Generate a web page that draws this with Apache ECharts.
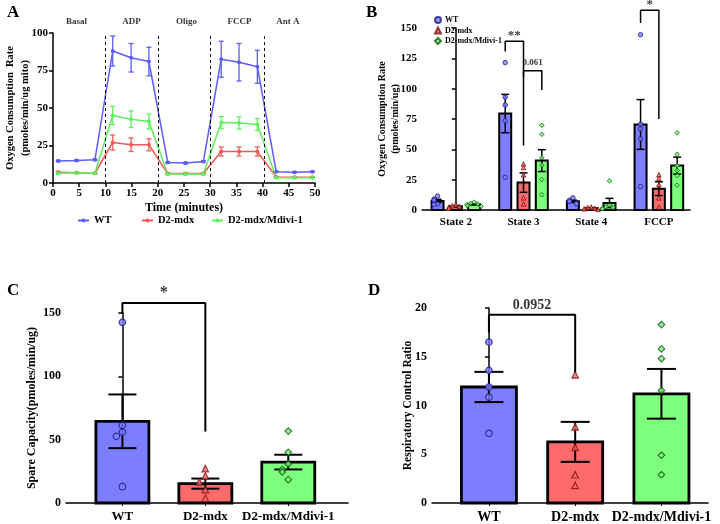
<!DOCTYPE html>
<html><head><meta charset="utf-8">
<script src="https://cdn.jsdelivr.net/npm/echarts@6/dist/echarts.min.js"></script>
<style>html,body{margin:0;padding:0;background:#fff}#c{width:720px;height:524px}</style>
</head><body><div id="c"></div>
<script>
// ---------- Panel A data ----------
const timeA = [1, 4.5, 8, 11.4, 14.9, 18.3, 21.9, 25.3, 28.7, 32.1, 35.5, 39, 42.6, 46.1, 49.5];
const wtA = [14.7, 15, 15.5, 88, 83.5, 81, 13.7, 13.3, 14.3, 82.5, 80.5, 77.5, 7.5, 7.2, 7.5];
const wtErrA = [0.5, 0.5, 0.5, 10, 9.5, 9.5, 0.5, 0.5, 0.5, 12, 12.5, 11, 0.3, 0.3, 0.3];
const mdxA = [7.2, 6.8, 6.5, 27, 25.5, 25.5, 6.3, 6.3, 6.3, 21, 21, 21, 4, 3.8, 3.8];
const mdxErrA = [0.5, 0.5, 0.5, 5, 4.5, 4, 0.5, 0.5, 0.5, 3, 3, 3, 0.3, 0.3, 0.3];
const mdiviA = [6.5, 6.8, 6.5, 45, 42.5, 41, 6, 6, 6, 40.3, 40, 39, 3.5, 3.5, 3.5];
const mdiviErrA = [0.5, 0.5, 0.5, 6, 5.5, 5, 0.5, 0.5, 0.5, 4, 4, 4, 0.3, 0.3, 0.3];
const phaseNames = ['Basal', 'ADP', 'Oligo', 'FCCP', 'Ant A'];
const phaseCenters = [4.5, 15, 25.5, 35.6, 44.8];
const injectionTimes = [10, 20, 30, 40.3];
const seriesNames = ['WT', 'D2-mdx', 'D2-mdx/Mdivi-1'];

// ---------- Panel B data ----------
const categoriesB = ['State 2', 'State 3', 'State 4', 'FCCP'];
const wtB = [7.5, 79.5, 7.2, 70.5];
const wtSemB = [1.3, 15.8, 1.0, 20.5];
const mdxB = [3.0, 22.6, 1.5, 17.6];
const mdxSemB = [0.6, 8.0, 0.4, 5.7];
const mdiviB = [4.7, 40.7, 5.8, 36.6];
const mdiviSemB = [0.6, 9.0, 3.8, 7.0];
const wtPtsB = [[11.5, 9, 8, 5, 4.5], [121.5, 93, 86.5, 73.5, 27], [10, 8, 7, 5.5, 5], [144.5, 70.7, 66.9, 58.6, 19.3]];
const mdxPtsB = [[4.5, 3.5, 3, 2.5, 1.5], [38, 35, 29, 10, 5], [2.5, 2, 1.5, 1, 0.5], [29, 26, 21, 10, 2.5]];
const mdiviPtsB = [[6.5, 5.5, 5, 4.5, 3.5, 3], [69.8, 62.4, 43, 37, 25, 12.6], [24, 4, 2.5, 2, 1.5, 1], [63.6, 46, 36.6, 32.5, 28.3, 20.4]];
// brackets: category, group from, group to, top, left end, right end, label
const bracketsB = [
  {cat: 1, g1: 0, g2: 1, top: 139, y1: 130.7, y2: 53.1, text: '**'},
  {cat: 1, g1: 1, g2: 2, top: 114.8, y1: 109.6, y2: 99, text: '0.061'},
  {cat: 3, g1: 0, g2: 1, top: 164.6, y1: 154.2, y2: 74.9, text: '*'}
];

// ---------- Panel C data ----------
const categoriesC = ['WT', 'D2-mdx', 'D2-mdx/Mdivi-1'];
const meanC = [64.5, 15.3, 32.3];
const semC = [21.2, 4.0, 5.8];
const ptsC = [[142.6, 61.3, 56, 52.6, 12.9], [27.1, 21.3, 16.6, 10.5, 3.7], [56.8, 40, 30.8, 26.3, 24.5, 18.4]];
const bracketC = {c1: 0, c2: 1, top: 157.9, y1: 149.2, y2: 56.5, text: '*'};

// ---------- Panel D data ----------
const categoriesD = ['WT', 'D2-mdx', 'D2-mdx/Mdivi-1'];
const meanD = [11.9, 6.27, 11.2];
const semD = [1.55, 2.05, 2.55];
const ptsD = [[16.5, 13.6, 11.9, 10.85, 7.15], [13.15, 7.8, 5.7, 2.9, 1.8], [18.3, 15.8, 14.8, 11.55, 4.9, 2.9]];
const bracketD = {c1: 0, c2: 1, top: 19.3, y1: 17.5, y2: 13.4, text: '0.0952'};

// ---------- styling ----------
const FONT = '"Liberation Serif", "Times New Roman", serif';
const lineColors = ['#5c5cff', '#f25a5a', '#5ef05e'];
const barColors = ['#7d7dff', '#ff6b6b', '#7dff7d'];
const ptBorders = ['#1d1d80', '#7a1212', '#0d5c0d'];
const ptSymbols = ['circle', 'triangle', 'diamond'];
const CLEAR = 'rgba(0,0,0,0)';

const chart = echarts.init(document.getElementById('c'));

function errRender(capPx, color, lw) {
  return function (params, api) {
    const x = api.value(0), lo = api.value(1), hi = api.value(2);
    const pLo = api.coord([x, lo]), pHi = api.coord([x, hi]);
    const h = capPx / 2;
    const st = {stroke: color, lineWidth: lw};
    return {type: 'group', children: [
      {type: 'line', shape: {x1: pHi[0], y1: pHi[1], x2: pLo[0], y2: pLo[1]}, style: st},
      {type: 'line', shape: {x1: pHi[0] - h, y1: pHi[1], x2: pHi[0] + h, y2: pHi[1]}, style: st},
      {type: 'line', shape: {x1: pLo[0] - h, y1: pLo[1], x2: pLo[0] + h, y2: pLo[1]}, style: st}
    ]};
  };
}
function barRender(widthPx, fill, bw) {
  return function (params, api) {
    const x = api.value(0), y = api.value(1);
    const a = api.coord([x, 0]), b = api.coord([x, y]);
    return {type: 'rect', shape: {x: a[0] - widthPx / 2, y: b[1], width: widthPx, height: a[1] - b[1]},
      style: {fill: fill, stroke: '#000', lineWidth: bw}};
  };
}
// jitter offsets (in px) for points close in value
function jitter(vals, thr, stepPx) {
  return vals.map((v, i) => {
    let n = 0;
    for (let j = 0; j < i; j++) if (Math.abs(vals[j] - v) < thr) n++;
    if (n === 0) return 0;
    return (n % 2 === 1 ? -1 : 1) * Math.ceil(n / 2) * stepPx;
  });
}

const grids = [
  {left: 53, top: 33, width: 262, height: 150},   // A
  {left: 422, top: 28, width: 268, height: 182},  // B
  {left: 66, top: 313, width: 282, height: 190},  // C
  {left: 432, top: 308, width: 276, height: 198}  // D
];
const xRanges = [[0, 50], [-0.5, 3.46], [-0.68, 2.72], [-0.66, 2.54]];
function pxPerUnit(i) { return grids[i].width / (xRanges[i][1] - xRanges[i][0]); }

const axisLineStyle = {lineStyle: {color: '#000', width: 1.5}};
const tickStyle = {show: true, length: 4, lineStyle: {color: '#000', width: 1.5}};
function lbl(size) { return {color: '#000', fontFamily: FONT, fontWeight: 'bold', fontSize: size}; }

const xAxes = [
  {gridIndex: 0, type: 'value', min: 0, max: 50, interval: 5, axisLine: axisLineStyle, axisTick: tickStyle,
   splitLine: {show: false}, axisLabel: Object.assign(lbl(11), {margin: 5}),
   name: 'Time (minutes)', nameLocation: 'middle', nameGap: 19, nameTextStyle: lbl(12)},
  {gridIndex: 1, type: 'value', min: -0.5, max: 3.46, axisLine: axisLineStyle, axisTick: {show: false},
   splitLine: {show: false},
   axisLabel: Object.assign(lbl(11), {customValues: [0, 1, 2, 3], formatter: v => categoriesB[Math.round(v)], margin: 7})},
  {gridIndex: 2, type: 'value', min: -0.68, max: 2.72, axisLine: axisLineStyle,
   axisTick: {show: true, length: 3, customValues: [0, 1, 2], lineStyle: {color: '#000', width: 1}},
   splitLine: {show: false},
   axisLabel: Object.assign(lbl(13), {customValues: [0, 1, 2], formatter: v => categoriesC[Math.round(v)], margin: 7})},
  {gridIndex: 3, type: 'value', min: -0.66, max: 2.54, axisLine: axisLineStyle,
   axisTick: {show: true, length: 3, customValues: [0, 1, 2], lineStyle: {color: '#000', width: 1}},
   splitLine: {show: false},
   axisLabel: Object.assign(lbl(14), {customValues: [0, 1, 2], formatter: v => categoriesD[Math.round(v)], margin: 7})}
];
const yAxes = [
  {gridIndex: 0, type: 'value', min: 0, max: 100, interval: 25, axisLine: Object.assign({show: true}, axisLineStyle),
   axisTick: tickStyle, splitLine: {show: false}, axisLabel: Object.assign(lbl(11), {margin: 5}),
   name: 'Oxygen Consumption  Rate\n(pmoles/min/ug mito)', nameLocation: 'middle', nameGap: 20, nameMoveOverlap: false,
   nameTextStyle: Object.assign(lbl(10.5), {lineHeight: 15})},
  {gridIndex: 1, type: 'value', min: 0, max: 150, interval: 25, axisLine: Object.assign({show: true}, axisLineStyle),
   axisTick: tickStyle, splitLine: {show: false}, axisLabel: Object.assign(lbl(11), {margin: 5}),
   name: 'Oxygen Consumption Rate\n(pmoles/min/ug)', nameLocation: 'middle', nameGap: 20, nameMoveOverlap: false,
   nameTextStyle: Object.assign(lbl(10), {lineHeight: 13})},
  {gridIndex: 2, type: 'value', min: 0, max: 150, interval: 50, axisLine: Object.assign({show: true}, axisLineStyle),
   axisTick: tickStyle, splitLine: {show: false}, axisLabel: Object.assign(lbl(12), {margin: 5}),
   name: 'Spare Capacity(pmoles/min/ug)', nameLocation: 'middle', nameGap: 28, nameMoveOverlap: false, nameTextStyle: lbl(12)},
  {gridIndex: 3, type: 'value', min: 0, max: 20, interval: 5, axisLine: Object.assign({show: true}, axisLineStyle),
   axisTick: tickStyle, splitLine: {show: false}, axisLabel: Object.assign(lbl(12), {margin: 5}),
   name: 'Respiratory Control Ratio', nameLocation: 'middle', nameGap: 18, nameMoveOverlap: false, nameTextStyle: lbl(11.5)}
];

const series = [];
// ----- Panel A -----
const aVals = [wtA, mdxA, mdiviA];
const aErrs = [wtErrA, mdxErrA, mdiviErrA];
aVals.forEach((vals, s) => {
  series.push({
    name: seriesNames[s], type: 'line', xAxisIndex: 0, yAxisIndex: 0,
    data: timeA.map((t, i) => [t, vals[i]]),
    symbol: 'circle', symbolSize: 4, color: lineColors[s],
    lineStyle: {width: 1.5, color: lineColors[s]}, itemStyle: {color: lineColors[s]}, z: 3,
    markLine: s === 0 ? {silent: true, symbol: 'none', label: {show: false},
      lineStyle: {type: [3, 3], color: '#000', width: 1},
      data: injectionTimes.map(t => ({xAxis: t}))} : undefined
  });
  series.push({
    name: 'A-err-' + s, type: 'custom', xAxisIndex: 0, yAxisIndex: 0, z: 3,
    renderItem: errRender(5, lineColors[s], 1.3),
    data: timeA.map((t, i) => [t, vals[i] - aErrs[s][i], vals[i] + aErrs[s][i]])
  });
});
series.push({
  name: 'A-phases', type: 'scatter', xAxisIndex: 0, yAxisIndex: 0, clip: false, silent: true,
  symbolSize: 1, itemStyle: {color: CLEAR},
  data: phaseCenters.map((c, i) => ({value: [c, 107.3], name: phaseNames[i]})),
  label: {show: true, position: 'inside', formatter: p => p.name, color: '#000', fontFamily: FONT, fontWeight: 'bold', fontSize: 9}
});

// ----- Panel B -----
const groupOffsetsPx = [-18.3, 0, 18.3];
const bMeans = [wtB, mdxB, mdiviB];
const bSems = [wtSemB, mdxSemB, mdiviSemB];
const bPts = [wtPtsB, mdxPtsB, mdiviPtsB];
const uB = pxPerUnit(1);
function xB(cat, g) { return cat + groupOffsetsPx[g] / uB; }
bMeans.forEach((m, g) => {
  series.push({name: 'B-bar-' + g, type: 'custom', xAxisIndex: 1, yAxisIndex: 1, z: 2,
    renderItem: barRender(12, barColors[g], 2),
    data: m.map((v, c) => [xB(c, g), v])});
  series.push({name: 'B-err-' + g, type: 'custom', xAxisIndex: 1, yAxisIndex: 1, z: 4,
    renderItem: errRender(8, '#000', 1.5),
    data: m.map((v, c) => [xB(c, g), v - bSems[g][c], v + bSems[g][c]])});
  const pts = [];
  bPts[g].forEach((arr, c) => {
    const j = jitter(arr, 3, 3.5);
    arr.forEach((v, k) => pts.push([xB(c, g) + j[k] / uB, v]));
  });
  series.push({name: 'B:' + seriesNames[g], type: 'scatter', xAxisIndex: 1, yAxisIndex: 1, z: 5,
    symbol: ptSymbols[g], symbolSize: 4.5, clip: false,
    itemStyle: {color: barColors[g], borderColor: ptBorders[g], borderWidth: 1},
    data: pts});
});
bracketsB.forEach((b, i) => {
  const x1 = xB(b.cat, b.g1), x2 = xB(b.cat, b.g2);
  series.push({name: 'B-br-' + i, type: 'line', xAxisIndex: 1, yAxisIndex: 1, z: 6, clip: false, silent: true,
    symbol: 'none', lineStyle: {color: '#000', width: 1.5},
    data: [[x1, b.y1], [x1, b.top], [x2, b.top], [x2, b.y2]]});
  series.push({name: 'B-brl-' + i, type: 'scatter', xAxisIndex: 1, yAxisIndex: 1, z: 6, clip: false, silent: true,
    symbolSize: 1, itemStyle: {color: CLEAR},
    data: [{value: [(x1 + x2) / 2, b.top], name: b.text}],
    label: {show: true, position: 'top', distance: b.text.length > 2 ? 3 : -1, formatter: p => p.name, color: '#000', fontFamily: FONT,
      fontWeight: 'bold', fontSize: b.text.length > 2 ? 9 : 13}});
});

// ----- Panels C and D -----
function singlePanel(idx, means, sems, pts, br, barW, capW, ptSize, labelSize, thr) {
  const u = pxPerUnit(idx);
  means.forEach((m, g) => {
    series.push({name: 'P' + idx + '-bar-' + g, type: 'custom', xAxisIndex: idx, yAxisIndex: idx, z: 2,
      renderItem: barRender(barW, barColors[g], 2.8), data: [[g, m]]});
    series.push({name: 'P' + idx + '-err-' + g, type: 'custom', xAxisIndex: idx, yAxisIndex: idx, z: 4,
      renderItem: errRender(capW, '#000', 2), data: [[g, m - sems[g], m + sems[g]]]});
    const j = jitter(pts[g], thr, 6);
    series.push({name: 'P' + idx + '-pts-' + g, type: 'scatter', xAxisIndex: idx, yAxisIndex: idx, z: 5,
      symbol: ptSymbols[g], symbolSize: ptSize, clip: false,
      itemStyle: {color: barColors[g], borderColor: ptBorders[g], borderWidth: 1.2},
      data: pts[g].map((v, k) => [g + j[k] / u, v])});
  });
  series.push({name: 'P' + idx + '-br', type: 'line', xAxisIndex: idx, yAxisIndex: idx, z: 6, clip: false, silent: true,
    symbol: 'none', lineStyle: {color: '#000', width: 2},
    data: [[br.c1, br.y1], [br.c1, br.top], [br.c2, br.top], [br.c2, br.y2]]});
  series.push({name: 'P' + idx + '-brl', type: 'scatter', xAxisIndex: idx, yAxisIndex: idx, z: 6, clip: false, silent: true,
    symbolSize: 1, itemStyle: {color: CLEAR},
    data: [{value: [(br.c1 + br.c2) / 2, br.top], name: br.text}],
    label: {show: true, position: 'top', distance: 2, formatter: p => p.name, color: '#000', fontFamily: FONT,
      fontWeight: 'bold', fontSize: labelSize}});
}
singlePanel(2, meanC, semC, ptsC, bracketC, 53, 28, 6.5, 16, 5);
singlePanel(3, meanD, semD, ptsD, bracketD, 55, 29, 6.5, 14, 0.5);

const legendText = {color: '#000', fontFamily: FONT, fontWeight: 'bold', fontSize: 10.5};
const legendA = seriesNames.map((n, i) => ({
  data: [n], left: [77, 141, 211][i], top: 215, padding: 0, itemWidth: 11, itemHeight: 5, itemGap: 4,
  textStyle: legendText, selectedMode: false
}));

chart.setOption({
  animation: false,
  grid: grids,
  xAxis: xAxes,
  yAxis: yAxes,
  legend: legendA.concat([{
    data: seriesNames.map(n => 'B:' + n), orient: 'vertical', left: 429, top: 11,
    itemWidth: 6, itemHeight: 6, itemGap: 2.5, selectedMode: false,
    formatter: n => n.replace('B:', ''),
    textStyle: {color: '#000', fontFamily: FONT, fontWeight: 'bold', fontSize: 8, padding: [0, 0, 0, -1]}
  }]),
  graphic: [
    {type: 'text', left: 7, top: 4, style: {text: 'A', font: 'bold 17px ' + FONT, fill: '#000'}},
    {type: 'text', left: 366, top: 4, style: {text: 'B', font: 'bold 17px ' + FONT, fill: '#000'}},
    {type: 'text', left: 7, top: 282, style: {text: 'C', font: 'bold 17px ' + FONT, fill: '#000'}},
    {type: 'text', left: 368, top: 282, style: {text: 'D', font: 'bold 17px ' + FONT, fill: '#000'}}
  ],
  series: series
});
</script>
</body></html>
